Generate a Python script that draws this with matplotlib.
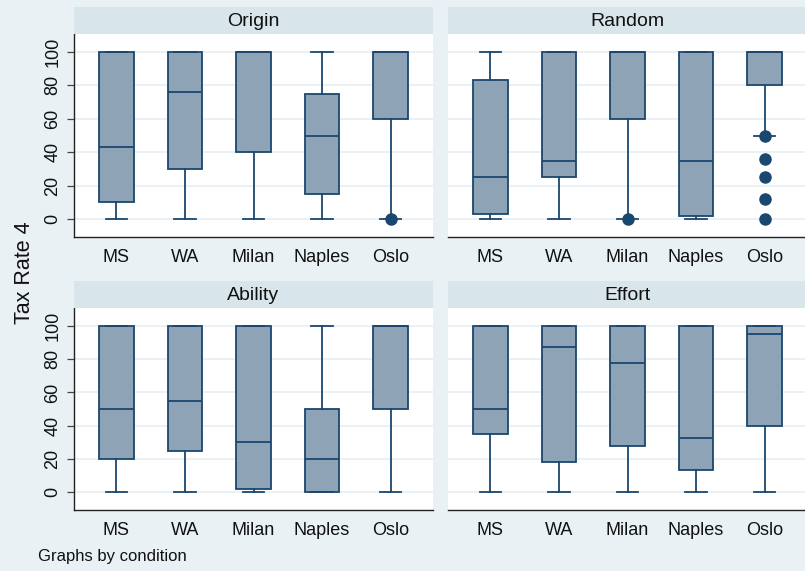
import numpy as np
import matplotlib.pyplot as plt

plt.rcParams['font.family'] = ['Liberation Sans', 'DejaVu Sans']

cities = ["MS", "WA", "Milan", "Naples", "Oslo"]
panels = ["Origin", "Random", "Ability", "Effort"]

# per panel, per city: lower whisker, Q1, median, Q3, upper whisker
origin_q1 = [10, 30, 40, 15, 60]
origin_med = [43, 76, 100, 50, 100]
origin_q3 = [100, 100, 100, 75, 100]
origin_lo = [0, 0, 0, 0, 0]
origin_hi = [100, 100, 100, 100, 100]
origin_out = [[], [], [], [], [0]]

random_q1 = [3, 25, 60, 2, 80]
random_med = [25, 35, 100, 35, 100]
random_q3 = [83, 100, 100, 100, 100]
random_lo = [0, 0, 0, 0, 50]
random_hi = [100, 100, 100, 100, 100]
random_out = [[], [], [0], [], [50, 36, 25, 12, 0]]

ability_q1 = [20, 25, 2, 0, 50]
ability_med = [50, 55, 30, 20, 100]
ability_q3 = [100, 100, 100, 50, 100]
ability_lo = [0, 0, 0, 0, 0]
ability_hi = [100, 100, 100, 100, 100]
ability_out = [[], [], [], [], []]

effort_q1 = [35, 18, 27.5, 13.5, 40]
effort_med = [50, 87.5, 77.5, 32.5, 95]
effort_q3 = [100, 100, 100, 100, 100]
effort_lo = [0, 0, 0, 0, 0]
effort_hi = [100, 100, 100, 100, 100]
effort_out = [[], [], [], [], []]

panel_data = {
    "Origin": (origin_lo, origin_q1, origin_med, origin_q3, origin_hi, origin_out),
    "Random": (random_lo, random_q1, random_med, random_q3, random_hi, random_out),
    "Ability": (ability_lo, ability_q1, ability_med, ability_q3, ability_hi, ability_out),
    "Effort": (effort_lo, effort_q1, effort_med, effort_q3, effort_hi, effort_out),
}

bg = "#e9f1f4"
strip_col = "#d8e5eb"
navy = "#1a476f"
box_fill = "#8ea3b6"
grid_col = "#e6eef1"

W, H = 805, 571
fig = plt.figure(figsize=(W / 100, H / 100), dpi=100, facecolor=bg)

# panel rectangles in pixels: x0, x1, y0 (top of plot), y1 (axis line), strip top
rects = {
    "Origin": (74, 433, 34, 237, 7),
    "Random": (448, 807, 34, 237, 7),
    "Ability": (74, 433, 308, 510, 281),
    "Effort": (448, 807, 308, 510, 281),
}

for name in panels:
    x0, x1, y0, y1, s0 = rects[name]
    ax = fig.add_axes([x0 / W, 1 - y1 / H, (x1 - x0) / W, (y1 - y0) / H])
    sax = fig.add_axes([x0 / W, 1 - y0 / H, (x1 - x0) / W, (y0 - s0) / H])
    sax.set_facecolor(strip_col)
    sax.set_xticks([])
    sax.set_yticks([])
    for sp in sax.spines.values():
        sp.set_visible(False)
    sax.text(0.5, 0.45, name, ha="center", va="center", fontsize=14, color="#111111",
             transform=sax.transAxes)

    lo, q1, med, q3, hi, out = panel_data[name]
    stats = []
    for i in range(len(cities)):
        stats.append(dict(whislo=lo[i], q1=q1[i], med=med[i], q3=q3[i], whishi=hi[i],
                          fliers=out[i], label=cities[i]))
    ax.bxp(stats, positions=np.arange(1, 6), widths=0.5, capwidths=0.32,
           patch_artist=True, showfliers=True,
           boxprops=dict(facecolor=box_fill, edgecolor=navy, linewidth=1.3),
           medianprops=dict(color=navy, linewidth=1.3),
           whiskerprops=dict(color=navy, linewidth=1.3),
           capprops=dict(color=navy, linewidth=1.3),
           flierprops=dict(marker="o", markerfacecolor=navy, markeredgecolor=navy,
                           markersize=8, linestyle="none"),
           zorder=3)

    ax.set_facecolor("white")
    ax.set_xlim(0.38, 5.62)
    ax.set_ylim(-10.8, 110.8)
    ax.set_yticks([0, 20, 40, 60, 80, 100])
    ax.grid(axis="y", color=grid_col, linewidth=1.2, zorder=0)
    ax.set_axisbelow(True)
    ax.tick_params(axis="x", length=0, pad=18, labelsize=13, colors="#111111")
    for lbl in ax.get_xticklabels():
        lbl.set_va("baseline")
    for sp in ["top", "right"]:
        ax.spines[sp].set_visible(False)
    ax.spines["bottom"].set_color("#222222")
    ax.spines["bottom"].set_linewidth(1.0)
    if name in ("Origin", "Ability"):
        ax.spines["left"].set_color("#222222")
        ax.spines["left"].set_linewidth(1.0)
        ax.tick_params(axis="y", length=5, width=0.9, color="#444444", pad=4,
                       labelsize=13, labelcolor="#111111")
        for lbl in ax.get_yticklabels():
            lbl.set_rotation(90)
            lbl.set_va("center")
    else:
        ax.spines["left"].set_visible(False)
        ax.tick_params(axis="y", length=0, labelleft=False)

fig.text(25 / W, 1 - 273 / H, "Tax Rate 4", rotation=90, ha="center", va="center",
         fontsize=15.5, color="#111111")
fig.text(38 / W, 1 - 557 / H, "Graphs by condition", ha="left", va="center",
         fontsize=12, color="#111111")

fig.savefig("out.png", dpi=100, facecolor=bg)
